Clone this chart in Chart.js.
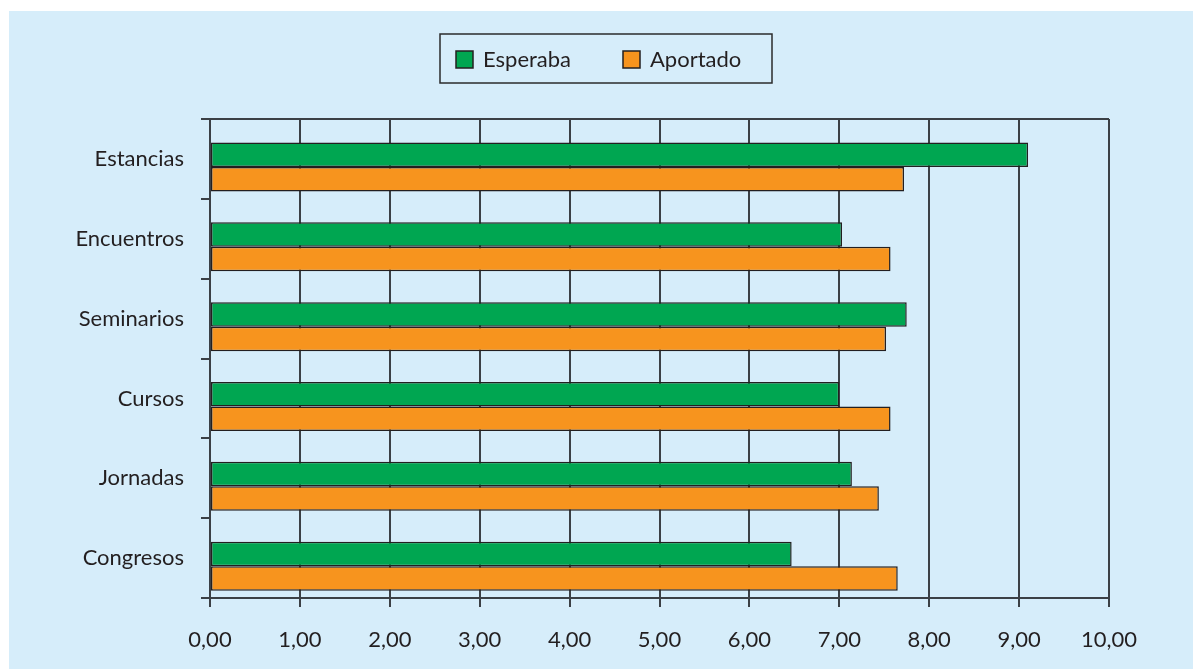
<!DOCTYPE html>
<html>
<head>
<meta charset="utf-8">
<script src="https://cdn.jsdelivr.net/npm/chart.js@4/dist/chart.umd.min.js"></script>
<style>
  body { margin: 0; background: #ffffff; }
  #wrap { position: absolute; left: 9px; top: 11px; width: 1184px; height: 658px; background: #d6edfa; }
</style>
</head>
<body>
<div id="wrap"><canvas id="myChart" width="1184" height="658"></canvas></div>
<script>
var categories = ['Estancias', 'Encuentros', 'Seminarios', 'Cursos', 'Jornadas', 'Congresos'];
var esperaba = [9.10, 7.03, 7.75, 7.00, 7.14, 6.47];
var aportado = [7.72, 7.57, 7.52, 7.57, 7.44, 7.65];
var xTickLabels = ['0,00', '1,00', '2,00', '3,00', '4,00', '5,00', '6,00', '7,00', '8,00', '9,00', '10,00'];

var lineColor = '#3b4045';
var textColor = '#231f20';
var fontFamily = 'Lato, "Open Sans", sans-serif';

// the bar pair sits a bit below the label, not centred on it:
// each bar is ~0.307 of a category thick; green centre -0.053, orange centre +0.254
// (categoryPercentage = 4*|offset|, barPercentage = 2*thickness/categoryPercentage)
var greenPct = { cat: 0.2105, bar: 2.917 };
var orangePct = { cat: 1.0172, bar: 0.6034 };

// top border of the plot box and the framed legend
var framePlugin = {
    id: 'frame',
    afterDraw: function (chart) {
        var c = chart.ctx, a = chart.chartArea;
        c.save();
        c.strokeStyle = lineColor;
        c.lineWidth = 2;
        c.beginPath();
        c.moveTo(a.left, a.top);
        c.lineTo(a.right, a.top);
        c.stroke();

        c.lineWidth = 1.5;
        c.strokeStyle = '#2b2b2b';
        c.strokeRect(431, 23, 332, 49);
        var items = [
            { x: 447, label: chart.data.datasets[0].label, color: chart.data.datasets[0].backgroundColor },
            { x: 614, label: chart.data.datasets[1].label, color: chart.data.datasets[1].backgroundColor }
        ];
        c.font = '22px ' + fontFamily;
        c.textBaseline = 'middle';
        items.forEach(function (it) {
            c.fillStyle = it.color;
            c.fillRect(it.x, 40, 17, 17);
            c.lineWidth = 1.5;
            c.strokeStyle = '#231f20';
            c.strokeRect(it.x, 40, 17, 17);
            c.fillStyle = textColor;
            c.fillText(it.label, it.x + 27, 49);
        });
        c.restore();
    }
};

var ctx = document.getElementById('myChart').getContext('2d');
var myChart = new Chart(ctx, {
    type: 'bar',
    data: {
        labels: categories,
        datasets: [{
            label: 'Esperaba',
            data: esperaba,
            backgroundColor: '#00a651',
            borderColor: '#231f20',
            borderWidth: 1.5,
            borderSkipped: false,
            categoryPercentage: greenPct.cat,
            barPercentage: greenPct.bar
        }, {
            label: 'Aportado',
            data: aportado,
            backgroundColor: '#f7941e',
            borderColor: '#231f20',
            borderWidth: 1.5,
            borderSkipped: false,
            categoryPercentage: orangePct.cat,
            barPercentage: orangePct.bar
        }]
    },
    options: {
        indexAxis: 'y',
        responsive: false,
        animation: false,
        layout: { padding: { top: 108, right: 84, left: 0, bottom: 0 } },
        scales: {
            x: {
                min: 0,
                max: 10,
                ticks: {
                    stepSize: 1,
                    padding: 20,
                    color: textColor,
                    font: { family: fontFamily, size: 22 },
                    callback: function (v, i) { return xTickLabels[i]; }
                },
                grid: { color: lineColor, lineWidth: 2, tickLength: 9, tickColor: lineColor },
                border: { display: true, color: lineColor, width: 2 },
                afterFit: function (s) { s.height = 71; }
            },
            y: {
                ticks: {
                    padding: 17,
                    color: textColor,
                    font: { family: fontFamily, size: 22 }
                },
                grid: { offset: true, drawOnChartArea: false, tickLength: 9, tickColor: lineColor, lineWidth: 2 },
                border: { display: false },
                afterFit: function (s) { s.width = 201; }
            }
        },
        plugins: {
            legend: { display: false },
            tooltip: { enabled: false }
        }
    },
    plugins: [framePlugin]
});
</script>
</body>
</html>
